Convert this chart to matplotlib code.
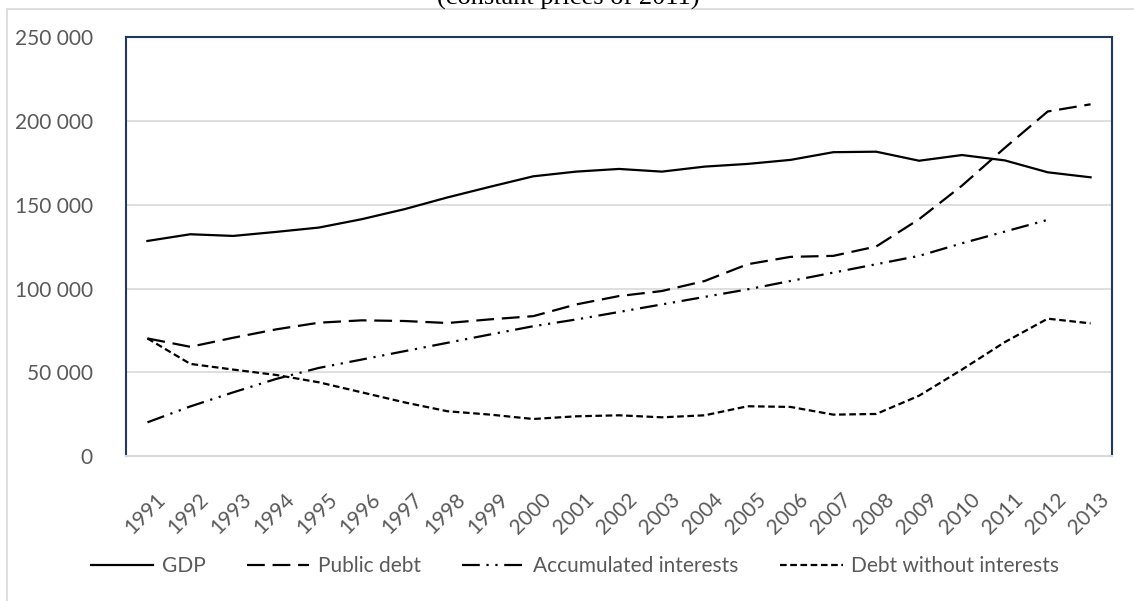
import numpy as np
import matplotlib
matplotlib.use("Agg")
import matplotlib.pyplot as plt
from matplotlib.patches import Rectangle
from matplotlib.transforms import ScaledTranslation

# ---------------- data ----------------
years = [str(y) for y in range(1991, 2014)]
gdp = [128400, 132400, 131400, 133800, 136400, 141400, 147400, 154400, 160800, 167000,
       169800, 171400, 169800, 172800, 174400, 176800, 181400, 181700, 176300, 179700,
       176500, 169400, 166400]
public_debt = [70200, 65200, 70600, 75600, 79600, 81000, 80600, 79400, 81600, 83500,
               90500, 95500, 98500, 104500, 114500, 118900, 119500, 125100, 141400, 161400,
               184000, 205700, 210000]
accumulated_interests = [20100, 29600, 38000, 46000, 52600, 57600, 62600, 67600, 72600, 77500,
                         81500, 86000, 90500, 95000, 99500, 104500, 109500, 114500, 119500, 127000,
                         134000, 141000, np.nan]
debt_without_interests = [70200, 55000, 51600, 48400, 44000, 38000, 32000, 26700, 24700, 22100,
                          23700, 24300, 23100, 24300, 29700, 29300, 24700, 25100, 36000, 51600,
                          68000, 82000, 79200]
yticks = [0, 50000, 100000, 150000, 200000, 250000]

GRAY_TXT = "#595959"
NAVY = "#1F3864"
GRID = "#D9D9D9"

fig = plt.figure(figsize=(11.34, 6.01), dpi=100)

# outer chart frame and the title, which the reference shows clipped at the top
fig.patches.append(Rectangle((7 / 1134, -0.05), 1.2, 1 - 9 / 601 + 0.05, transform=fig.transFigure,
                             fill=False, edgecolor="#D9D9D9", linewidth=1.2))
fig.text(0.501, 1 - 5 / 601, "(constant prices of 2011)", ha="center", va="baseline",
         family="Liberation Serif", fontsize=19, color="black")

ax = fig.add_axes([126 / 1134, 1 - 456 / 601, (1112 - 126) / 1134, (456 - 37.3) / 601])
x = np.arange(len(years))

lw = 1.6
ax.plot(x, gdp, color="black", lw=lw, label="GDP")
ax.plot(x, public_debt, color="black", lw=lw, dashes=(8, 3.5), label="Public debt")
ax.plot(x, accumulated_interests, color="black", lw=lw, dashes=(8, 3, 1, 3, 1, 3),
        label="Accumulated interests")
ax.plot(x, debt_without_interests, color="black", lw=lw, dashes=(3, 1.6),
        label="Debt without interests")

ax.set_xlim(-0.5, len(years) - 0.5)
ax.set_ylim(0, 250000)
ax.set_yticks(yticks)
ax.set_yticklabels([f"{v:,}".replace(",", " ") for v in yticks])
ax.set_xticks(x)
ax.set_xticklabels(years, rotation=45, ha="right", rotation_mode="anchor")
ax.tick_params(axis="both", length=0, labelsize=15, labelcolor=GRAY_TXT)
ax.tick_params(axis="y", pad=24)
ax.tick_params(axis="x", pad=24)
for lab in ax.get_xticklabels() + ax.get_yticklabels():
    lab.set_family("Lato")
# nudge the rotated year labels a little to the right, as in the reference
shift = ScaledTranslation(8 / 100, 0, fig.dpi_scale_trans)
for lab in ax.get_xticklabels():
    lab.set_transform(lab.get_transform() + shift)

ax.grid(axis="y", color=GRID, lw=1.2)
ax.set_axisbelow(True)
for s in ["left", "top", "right"]:
    ax.spines[s].set_color(NAVY)
    ax.spines[s].set_linewidth(1.5)
ax.spines["bottom"].set_color(GRID)
ax.spines["bottom"].set_linewidth(1.5)

leg = fig.legend(loc="center", bbox_to_anchor=(0.507, 1 - 566 / 601), ncol=4, frameon=False,
                 handlelength=3.0, columnspacing=2.0, handletextpad=0.4,
                 prop={"family": "Lato", "size": 15})
for t in leg.get_texts():
    t.set_color(GRAY_TXT)

fig.savefig("out.png", dpi=100)
